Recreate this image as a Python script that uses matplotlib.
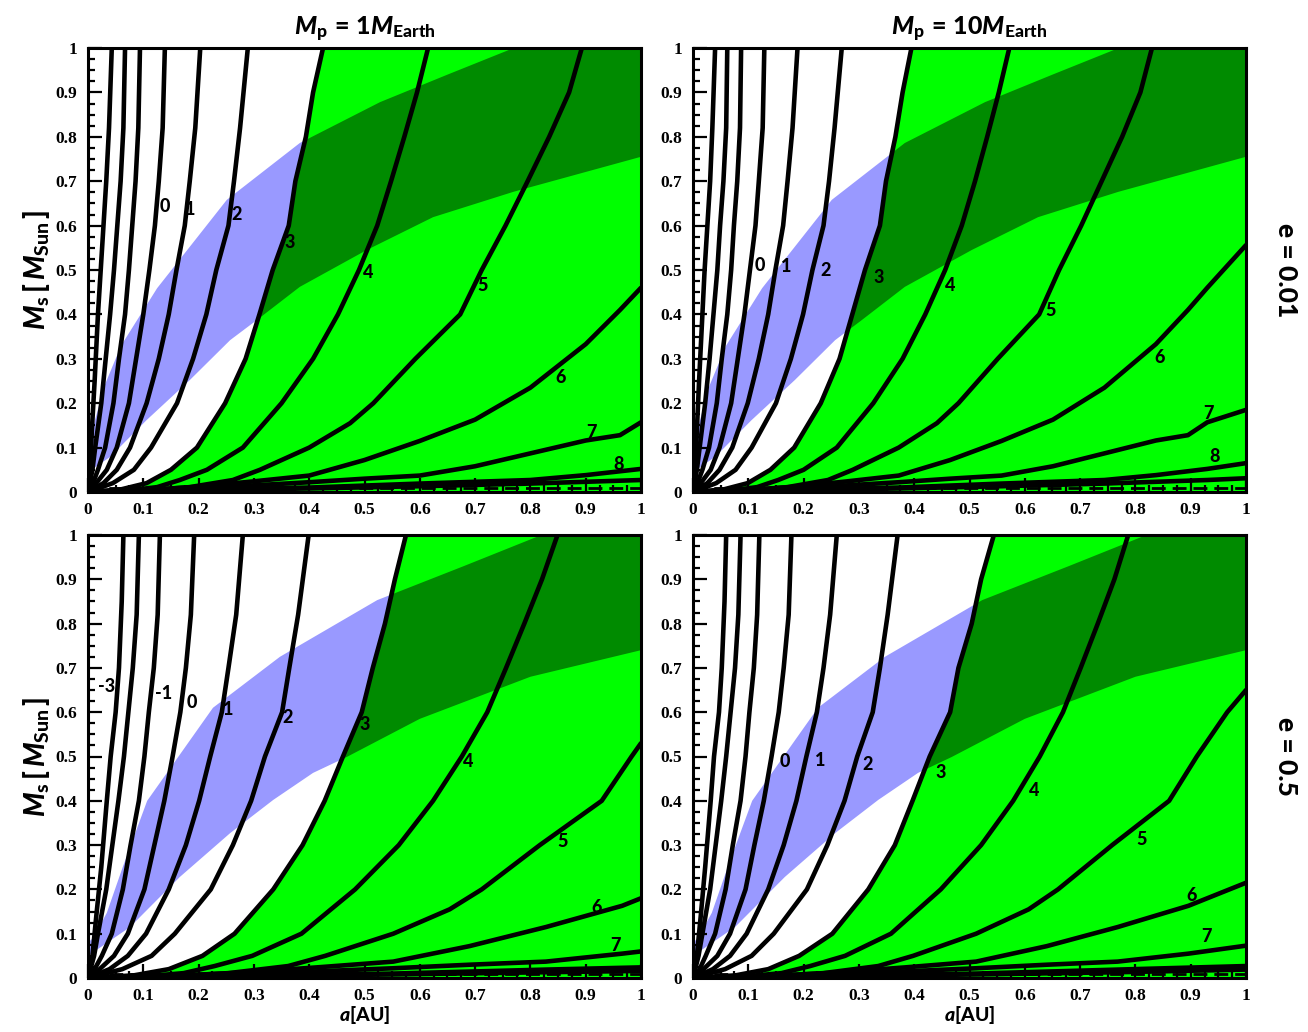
import matplotlib

matplotlib.use("Agg")
import matplotlib.pyplot as plt
from matplotlib.patches import Polygon
from matplotlib.ticker import MultipleLocator, FuncFormatter

plt.rcParams["font.family"] = ["Liberation Serif", "DejaVu Serif"]
plt.rcParams["font.weight"] = "bold"
plt.rcParams["mathtext.fontset"] = "custom"
plt.rcParams["mathtext.rm"] = "Lato:black"
plt.rcParams["mathtext.it"] = "Lato:black:italic"
plt.rcParams["mathtext.bf"] = "Lato:black"

BLUE = "#9999ff"
GREEN = "#00ff00"
DKGREEN = "#008b00"

# contour levels, same order as the point lists below
LEVELS = [-3, -2, -1, 0, 1, 2, 3, 4, 5, 6, 7, 8, 9]
BOUNDARY_LEVEL = 3  # green region lies to the right of this contour

# --- M_p = 1 M_Earth, e = 0.01 : (a [AU], M_s [M_Sun]) ---
TL_LINES = [
    [(0, 0), (0.004, 0.05), (0.007, 0.14), (0.012, 0.25), (0.018, 0.40), (0.023, 0.50), (0.028, 0.60), (0.033, 0.70), (0.038, 0.82), (0.043, 1.0)],
    [(0, 0), (0.008, 0.05), (0.013, 0.10), (0.024, 0.20), (0.032, 0.30), (0.040, 0.40), (0.047, 0.50), (0.053, 0.60), (0.059, 0.70), (0.064, 0.82), (0.067, 1.0)],
    [(0, 0), (0.009, 0.02), (0.018, 0.05), (0.031, 0.10), (0.046, 0.20), (0.056, 0.30), (0.067, 0.40), (0.074, 0.50), (0.080, 0.60), (0.086, 0.70), (0.091, 0.82), (0.094, 1.0)],
    [(0, 0), (0.015, 0.02), (0.034, 0.05), (0.052, 0.10), (0.074, 0.20), (0.087, 0.30), (0.100, 0.40), (0.111, 0.50), (0.121, 0.60), (0.128, 0.70), (0.135, 0.82), (0.139, 1.0)],
    [(0, 0), (0.028, 0.02), (0.052, 0.05), (0.076, 0.10), (0.106, 0.20), (0.128, 0.30), (0.146, 0.40), (0.160, 0.50), (0.175, 0.60), (0.184, 0.70), (0.194, 0.82), (0.203, 1.0)],
    [(0, 0), (0.045, 0.02), (0.083, 0.05), (0.114, 0.10), (0.161, 0.20), (0.190, 0.30), (0.214, 0.40), (0.232, 0.50), (0.254, 0.60), (0.264, 0.70), (0.275, 0.82), (0.289, 1.0)],
    [(0, 0), (0.06, 0.006), (0.106, 0.02), (0.150, 0.05), (0.197, 0.10), (0.248, 0.20), (0.285, 0.30), (0.310, 0.40), (0.334, 0.50), (0.363, 0.60), (0.375, 0.70), (0.394, 0.80), (0.407, 0.90), (0.425, 1.0)],
    [(0, 0), (0.07, 0.003), (0.125, 0.011), (0.166, 0.027), (0.215, 0.05), (0.280, 0.10), (0.350, 0.20), (0.407, 0.30), (0.452, 0.40), (0.490, 0.50), (0.523, 0.60), (0.548, 0.70), (0.572, 0.80), (0.595, 0.90), (0.615, 1.0)],
    [(0, 0), (0.10, 0.003), (0.184, 0.011), (0.262, 0.027), (0.311, 0.05), (0.400, 0.10), (0.474, 0.155), (0.516, 0.20), (0.592, 0.30), (0.673, 0.40), (0.712, 0.50), (0.755, 0.60), (0.795, 0.70), (0.834, 0.80), (0.870, 0.90), (0.893, 1.0)],
    [(0, 0), (0.1, 0.004), (0.2, 0.012), (0.3, 0.024), (0.4, 0.037), (0.5, 0.072), (0.6, 0.115), (0.7, 0.163), (0.8, 0.235), (0.9, 0.333), (0.962, 0.410), (1.0, 0.46)],
    [(0, 0), (0.1, 0.003), (0.2, 0.008), (0.3, 0.015), (0.4, 0.022), (0.5, 0.030), (0.6, 0.037), (0.7, 0.058), (0.8, 0.087), (0.9, 0.116), (0.962, 0.128), (1.0, 0.157)],
    [(0, 0), (0.2, 0.005), (0.4, 0.010), (0.6, 0.019), (0.8, 0.027), (0.9, 0.038), (1.0, 0.052)],
    [(0, 0), (0.2, 0.004), (0.4, 0.008), (0.6, 0.013), (0.8, 0.019), (1.0, 0.027)],
]
TL_LABELS = [("0", 0.139, 0.642), ("1", 0.184, 0.637), ("2", 0.268, 0.624), ("3", 0.365, 0.561),
             ("4", 0.506, 0.495), ("5", 0.714, 0.466), ("6", 0.855, 0.257), ("7", 0.911, 0.135),
             ("8", 0.960, 0.061)]

# --- M_p = 10 M_Earth, e = 0.01 ---
TR_LINES = [
    [(0, 0), (0.004, 0.05), (0.007, 0.14), (0.011, 0.25), (0.017, 0.40), (0.021, 0.50), (0.026, 0.60), (0.031, 0.70), (0.035, 0.82), (0.040, 1.0)],
    [(0, 0), (0.007, 0.05), (0.012, 0.10), (0.022, 0.20), (0.030, 0.30), (0.037, 0.40), (0.044, 0.50), (0.049, 0.60), (0.055, 0.70), (0.060, 0.82), (0.062, 1.0)],
    [(0, 0), (0.008, 0.02), (0.017, 0.05), (0.029, 0.10), (0.043, 0.20), (0.052, 0.30), (0.062, 0.40), (0.069, 0.50), (0.074, 0.60), (0.080, 0.70), (0.085, 0.82), (0.087, 1.0)],
    [(0, 0), (0.014, 0.02), (0.032, 0.05), (0.048, 0.10), (0.069, 0.20), (0.081, 0.30), (0.093, 0.40), (0.103, 0.50), (0.113, 0.60), (0.119, 0.70), (0.126, 0.82), (0.129, 1.0)],
    [(0, 0), (0.026, 0.02), (0.048, 0.05), (0.071, 0.10), (0.099, 0.20), (0.119, 0.30), (0.136, 0.40), (0.149, 0.50), (0.163, 0.60), (0.171, 0.70), (0.180, 0.82), (0.189, 1.0)],
    [(0, 0), (0.042, 0.02), (0.077, 0.05), (0.106, 0.10), (0.150, 0.20), (0.177, 0.30), (0.199, 0.40), (0.216, 0.50), (0.236, 0.60), (0.246, 0.70), (0.256, 0.82), (0.269, 1.0)],
    [(0, 0), (0.056, 0.006), (0.099, 0.02), (0.140, 0.05), (0.183, 0.10), (0.231, 0.20), (0.265, 0.30), (0.288, 0.40), (0.311, 0.50), (0.338, 0.60), (0.349, 0.70), (0.366, 0.80), (0.379, 0.90), (0.395, 1.0)],
    [(0, 0), (0.065, 0.003), (0.116, 0.011), (0.154, 0.027), (0.200, 0.05), (0.260, 0.10), (0.326, 0.20), (0.379, 0.30), (0.420, 0.40), (0.456, 0.50), (0.486, 0.60), (0.510, 0.70), (0.532, 0.80), (0.553, 0.90), (0.572, 1.0)],
    [(0, 0), (0.093, 0.003), (0.171, 0.011), (0.244, 0.027), (0.289, 0.05), (0.372, 0.10), (0.441, 0.155), (0.480, 0.20), (0.551, 0.30), (0.626, 0.40), (0.662, 0.50), (0.702, 0.60), (0.739, 0.70), (0.776, 0.80), (0.809, 0.90), (0.830, 1.0)],
    [(0, 0), (0.093, 0.004), (0.186, 0.012), (0.279, 0.024), (0.372, 0.037), (0.465, 0.072), (0.558, 0.115), (0.651, 0.163), (0.744, 0.235), (0.837, 0.333), (0.895, 0.410), (0.930, 0.46), (1.0, 0.556)],
    [(0, 0), (0.093, 0.003), (0.186, 0.008), (0.279, 0.015), (0.372, 0.022), (0.465, 0.030), (0.558, 0.037), (0.651, 0.058), (0.744, 0.087), (0.837, 0.116), (0.895, 0.128), (0.930, 0.157), (1.0, 0.185)],
    [(0, 0), (0.186, 0.005), (0.372, 0.010), (0.558, 0.019), (0.744, 0.027), (0.837, 0.038), (0.930, 0.052), (1.0, 0.065)],
    [(0, 0), (0.186, 0.004), (0.372, 0.008), (0.558, 0.013), (0.744, 0.019), (0.930, 0.027), (1.0, 0.031)],
]
TR_LABELS = [("0", 0.121, 0.511), ("1", 0.168, 0.507), ("2", 0.240, 0.498), ("3", 0.335, 0.482),
             ("4", 0.465, 0.466), ("5", 0.646, 0.408), ("6", 0.843, 0.302), ("7", 0.933, 0.176),
             ("8", 0.944, 0.079)]

# --- M_p = 1 M_Earth, e = 0.5 ---
BL_LINES = [
    [(0, 0), (0.008, 0.05), (0.015, 0.14), (0.024, 0.25), (0.034, 0.40), (0.041, 0.50), (0.050, 0.60), (0.056, 0.70), (0.061, 0.85), (0.064, 1.0)],
    [(0, 0), (0.011, 0.05), (0.018, 0.10), (0.033, 0.20), (0.044, 0.30), (0.055, 0.40), (0.065, 0.50), (0.073, 0.60), (0.081, 0.70), (0.088, 0.82), (0.092, 1.0)],
    [(0, 0), (0.012, 0.02), (0.025, 0.05), (0.043, 0.10), (0.063, 0.20), (0.077, 0.30), (0.092, 0.40), (0.102, 0.50), (0.110, 0.60), (0.119, 0.70), (0.126, 0.82), (0.130, 1.0)],
    [(0, 0), (0.021, 0.02), (0.047, 0.05), (0.072, 0.10), (0.102, 0.20), (0.120, 0.30), (0.138, 0.40), (0.153, 0.50), (0.167, 0.60), (0.177, 0.70), (0.186, 0.82), (0.192, 1.0)],
    [(0, 0), (0.039, 0.02), (0.072, 0.05), (0.105, 0.10), (0.146, 0.20), (0.177, 0.30), (0.201, 0.40), (0.221, 0.50), (0.242, 0.60), (0.254, 0.70), (0.268, 0.82), (0.280, 1.0)],
    [(0, 0), (0.062, 0.02), (0.115, 0.05), (0.157, 0.10), (0.222, 0.20), (0.262, 0.30), (0.295, 0.40), (0.320, 0.50), (0.351, 0.60), (0.364, 0.70), (0.380, 0.82), (0.399, 1.0)],
    [(0, 0), (0.083, 0.006), (0.146, 0.02), (0.207, 0.05), (0.265, 0.10), (0.335, 0.20), (0.388, 0.30), (0.428, 0.40), (0.461, 0.50), (0.495, 0.60), (0.515, 0.70), (0.537, 0.80), (0.555, 0.90), (0.575, 1.0)],
    [(0, 0), (0.097, 0.003), (0.173, 0.011), (0.229, 0.027), (0.297, 0.05), (0.386, 0.10), (0.483, 0.20), (0.562, 0.30), (0.624, 0.40), (0.676, 0.50), (0.722, 0.60), (0.756, 0.70), (0.789, 0.80), (0.821, 0.90), (0.849, 1.0)],
    [(0, 0), (0.138, 0.003), (0.254, 0.011), (0.362, 0.027), (0.429, 0.05), (0.552, 0.10), (0.654, 0.155), (0.712, 0.20), (0.817, 0.30), (0.929, 0.40), (0.983, 0.50), (1.0, 0.53)],
    [(0, 0), (0.138, 0.004), (0.276, 0.012), (0.414, 0.024), (0.552, 0.037), (0.690, 0.072), (0.828, 0.115), (0.966, 0.163), (1.0, 0.18)],
    [(0, 0), (0.138, 0.003), (0.276, 0.008), (0.414, 0.015), (0.552, 0.022), (0.690, 0.030), (0.828, 0.037), (0.966, 0.055), (1.0, 0.060)],
    [(0, 0), (0.276, 0.005), (0.552, 0.010), (0.828, 0.019), (1.0, 0.024)],
    [(0, 0), (0.276, 0.004), (0.552, 0.008), (0.828, 0.013), (1.0, 0.016)],
]
BL_LABELS = [("-3", 0.034, 0.657), ("-1", 0.136, 0.643), ("0", 0.188, 0.621), ("1", 0.253, 0.607),
             ("2", 0.360, 0.589), ("3", 0.501, 0.573), ("4", 0.687, 0.488), ("5", 0.859, 0.307),
             ("6", 0.919, 0.160), ("7", 0.953, 0.074)]

# --- M_p = 10 M_Earth, e = 0.5 ---
BR_LINES = [
    [(0, 0), (0.007, 0.05), (0.014, 0.14), (0.022, 0.25), (0.032, 0.40), (0.038, 0.50), (0.047, 0.60), (0.052, 0.70), (0.057, 0.85), (0.060, 1.0)],
    [(0, 0), (0.010, 0.05), (0.017, 0.10), (0.031, 0.20), (0.041, 0.30), (0.051, 0.40), (0.060, 0.50), (0.068, 0.60), (0.076, 0.70), (0.082, 0.82), (0.086, 1.0)],
    [(0, 0), (0.012, 0.02), (0.023, 0.05), (0.040, 0.10), (0.059, 0.20), (0.072, 0.30), (0.086, 0.40), (0.095, 0.50), (0.102, 0.60), (0.110, 0.70), (0.116, 0.82), (0.120, 1.0)],
    [(0, 0), (0.019, 0.02), (0.044, 0.05), (0.067, 0.10), (0.095, 0.20), (0.111, 0.30), (0.128, 0.40), (0.142, 0.50), (0.155, 0.60), (0.164, 0.70), (0.173, 0.82), (0.178, 1.0)],
    [(0, 0), (0.036, 0.02), (0.067, 0.05), (0.097, 0.10), (0.136, 0.20), (0.164, 0.30), (0.187, 0.40), (0.205, 0.50), (0.224, 0.60), (0.236, 0.70), (0.248, 0.82), (0.260, 1.0)],
    [(0, 0), (0.058, 0.02), (0.106, 0.05), (0.146, 0.10), (0.206, 0.20), (0.243, 0.30), (0.274, 0.40), (0.297, 0.50), (0.325, 0.60), (0.338, 0.70), (0.352, 0.82), (0.370, 1.0)],
    [(0, 0), (0.077, 0.006), (0.136, 0.02), (0.192, 0.05), (0.252, 0.10), (0.317, 0.20), (0.365, 0.30), (0.397, 0.40), (0.428, 0.50), (0.465, 0.60), (0.480, 0.70), (0.504, 0.80), (0.521, 0.90), (0.544, 1.0)],
    [(0, 0), (0.090, 0.003), (0.160, 0.011), (0.212, 0.027), (0.275, 0.05), (0.358, 0.10), (0.448, 0.20), (0.521, 0.30), (0.579, 0.40), (0.627, 0.50), (0.669, 0.60), (0.701, 0.70), (0.732, 0.80), (0.762, 0.90), (0.787, 1.0)],
    [(0, 0), (0.128, 0.003), (0.236, 0.011), (0.335, 0.027), (0.398, 0.05), (0.512, 0.10), (0.607, 0.155), (0.660, 0.20), (0.758, 0.30), (0.861, 0.40), (0.911, 0.50), (0.966, 0.60), (1.0, 0.65)],
    [(0, 0), (0.128, 0.004), (0.256, 0.012), (0.384, 0.024), (0.512, 0.037), (0.640, 0.072), (0.768, 0.115), (0.896, 0.163), (1.0, 0.215)],
    [(0, 0), (0.128, 0.003), (0.256, 0.008), (0.384, 0.015), (0.512, 0.022), (0.640, 0.030), (0.768, 0.037), (0.896, 0.055), (1.0, 0.073)],
    [(0, 0), (0.256, 0.005), (0.512, 0.010), (0.768, 0.019), (1.0, 0.027)],
    [(0, 0), (0.256, 0.004), (0.512, 0.008), (0.768, 0.013), (1.0, 0.019)],
]
BR_LABELS = [("0", 0.166, 0.488), ("1", 0.230, 0.492), ("2", 0.316, 0.483), ("3", 0.447, 0.465),
             ("4", 0.617, 0.424), ("5", 0.812, 0.312), ("6", 0.901, 0.187), ("7", 0.929, 0.093)]

# habitable-zone band edges
HZ_E001_UPPER = [(0, 0.09), (0.01, 0.15), (0.03, 0.24), (0.06, 0.33), (0.125, 0.459), (0.251, 0.658),
                 (0.383, 0.786), (0.528, 0.878), (0.65, 0.94), (0.77, 1.0)]
HZ_E001_LOWER = [(0, 0.045), (0.04, 0.079), (0.106, 0.162), (0.184, 0.252), (0.257, 0.342), (0.305, 0.387),
                 (0.383, 0.462), (0.504, 0.545), (0.624, 0.619), (0.769, 0.676), (1.0, 0.755)]
HZ_E05_UPPER = [(0, 0.08), (0.009, 0.09), (0.034, 0.147), (0.063, 0.251), (0.107, 0.40), (0.226, 0.61),
                (0.347, 0.725), (0.523, 0.853), (0.68, 0.93), (0.82, 1.0)]
HZ_E05_LOWER = [(0, 0.05), (0.076, 0.115), (0.166, 0.228), (0.257, 0.327), (0.335, 0.402), (0.407, 0.463),
                (0.468, 0.499), (0.6, 0.585), (0.8, 0.68), (1.0, 0.74)]

DASHED_MS = 0.008

COL_TITLES = [r"$M_\mathrm{p}\,\mathrm{=}\,\mathrm{1}M_\mathrm{Earth}$",
              r"$M_\mathrm{p}\,\mathrm{=}\,\mathrm{10}M_\mathrm{Earth}$"]
ROW_TITLES = ["e = 0.01", "e = 0.5"]
YLABEL = r"$M_\mathrm{s}\,\mathrm{[}\,M_\mathrm{Sun}\,\mathrm{]}$"
XLABEL = r"$a\mathrm{[AU]}$"
XMAX, YMAX = 1.0, 1.0

W, H = 1308, 1032
PANEL_BOXES = {  # pixel boxes: left, top, right, bottom
    "TL": (88, 48, 641, 492), "TR": (693, 48, 1246, 492),
    "BL": (88, 535, 641, 978), "BR": (693, 535, 1246, 978),
}


def tick_fmt(v, _):
    if abs(v) < 1e-9:
        return "0"
    if abs(v - 1) < 1e-9:
        return "1"
    return f"{v:.1f}"


def draw_panel(ax, lines, labels, hz_up, hz_lo):
    boundary = lines[LEVELS.index(BOUNDARY_LEVEL)]
    band = hz_up + [(XMAX, YMAX)] + hz_lo[::-1]

    ax.add_patch(Polygon(band, closed=True, fc=BLUE, ec="none", zorder=1))
    green = Polygon(boundary + [(XMAX, YMAX), (XMAX, 0)], closed=True, fc=GREEN, ec="none", zorder=1.1)
    ax.add_patch(green)
    overlap = Polygon(band, closed=True, fc=DKGREEN, ec="none", zorder=1.2)
    ax.add_patch(overlap)
    overlap.set_clip_path(green)

    for pts in lines:
        xs = [p[0] for p in pts]
        ys = [p[1] for p in pts]
        ax.plot(xs, ys, color="black", lw=3.3, solid_joinstyle="round", solid_capstyle="round", zorder=2)
    ax.plot([0, XMAX], [DASHED_MS, DASHED_MS], color="black", lw=2.0, dashes=(5, 2.5), zorder=2)

    for text, a, m in labels:
        ax.text(a, m, text, ha="center", va="center", fontsize=13, family="Lato",
                fontweight="black", zorder=3)

    ax.set_xlim(0, XMAX)
    ax.set_ylim(0, YMAX)
    ax.xaxis.set_major_locator(MultipleLocator(0.1))
    ax.yaxis.set_major_locator(MultipleLocator(0.1))
    ax.xaxis.set_minor_locator(MultipleLocator(0.025))
    ax.yaxis.set_minor_locator(MultipleLocator(0.025))
    ax.xaxis.set_major_formatter(FuncFormatter(tick_fmt))
    ax.yaxis.set_major_formatter(FuncFormatter(tick_fmt))
    ax.tick_params(which="both", direction="in", top=False, right=False, width=1.6)
    ax.tick_params(which="major", length=10, labelsize=12.5, labelfontfamily="Liberation Serif")
    ax.tick_params(which="minor", length=5)
    ax.tick_params(axis="y", which="major", pad=8)
    ax.tick_params(axis="x", which="major", pad=7)
    for lab in ax.get_xticklabels() + ax.get_yticklabels():
        lab.set_fontweight("bold")
    for sp in ax.spines.values():
        sp.set_linewidth(2.2)
    ax.set_axisbelow(False)


fig = plt.figure(figsize=(W / 100, H / 100), dpi=100)

panels = {
    "TL": (TL_LINES, TL_LABELS, HZ_E001_UPPER, HZ_E001_LOWER),
    "TR": (TR_LINES, TR_LABELS, HZ_E001_UPPER, HZ_E001_LOWER),
    "BL": (BL_LINES, BL_LABELS, HZ_E05_UPPER, HZ_E05_LOWER),
    "BR": (BR_LINES, BR_LABELS, HZ_E05_UPPER, HZ_E05_LOWER),
}
axes = {}
for key, (l, t, r, b) in PANEL_BOXES.items():
    ax = fig.add_axes([l / W, 1 - b / H, (r - l) / W, (b - t) / H])
    draw_panel(ax, *panels[key])
    axes[key] = ax

for key, title in zip(["TL", "TR"], COL_TITLES):
    axes[key].set_title(title, fontsize=18, pad=9)

for key in ["TL", "BL"]:
    axes[key].set_ylabel(YLABEL, fontsize=20, labelpad=2)
for key in ["BL", "BR"]:
    axes[key].set_xlabel(XLABEL, fontsize=14, labelpad=0)

for key, text in zip(["TR", "BR"], ROW_TITLES):
    ax = axes[key]
    ax.text(1.073, 0.5, text, transform=ax.transAxes, rotation=-90, ha="center", va="center",
            fontsize=19, family="Lato", fontweight="black")

fig.savefig("out.png", dpi=100)
